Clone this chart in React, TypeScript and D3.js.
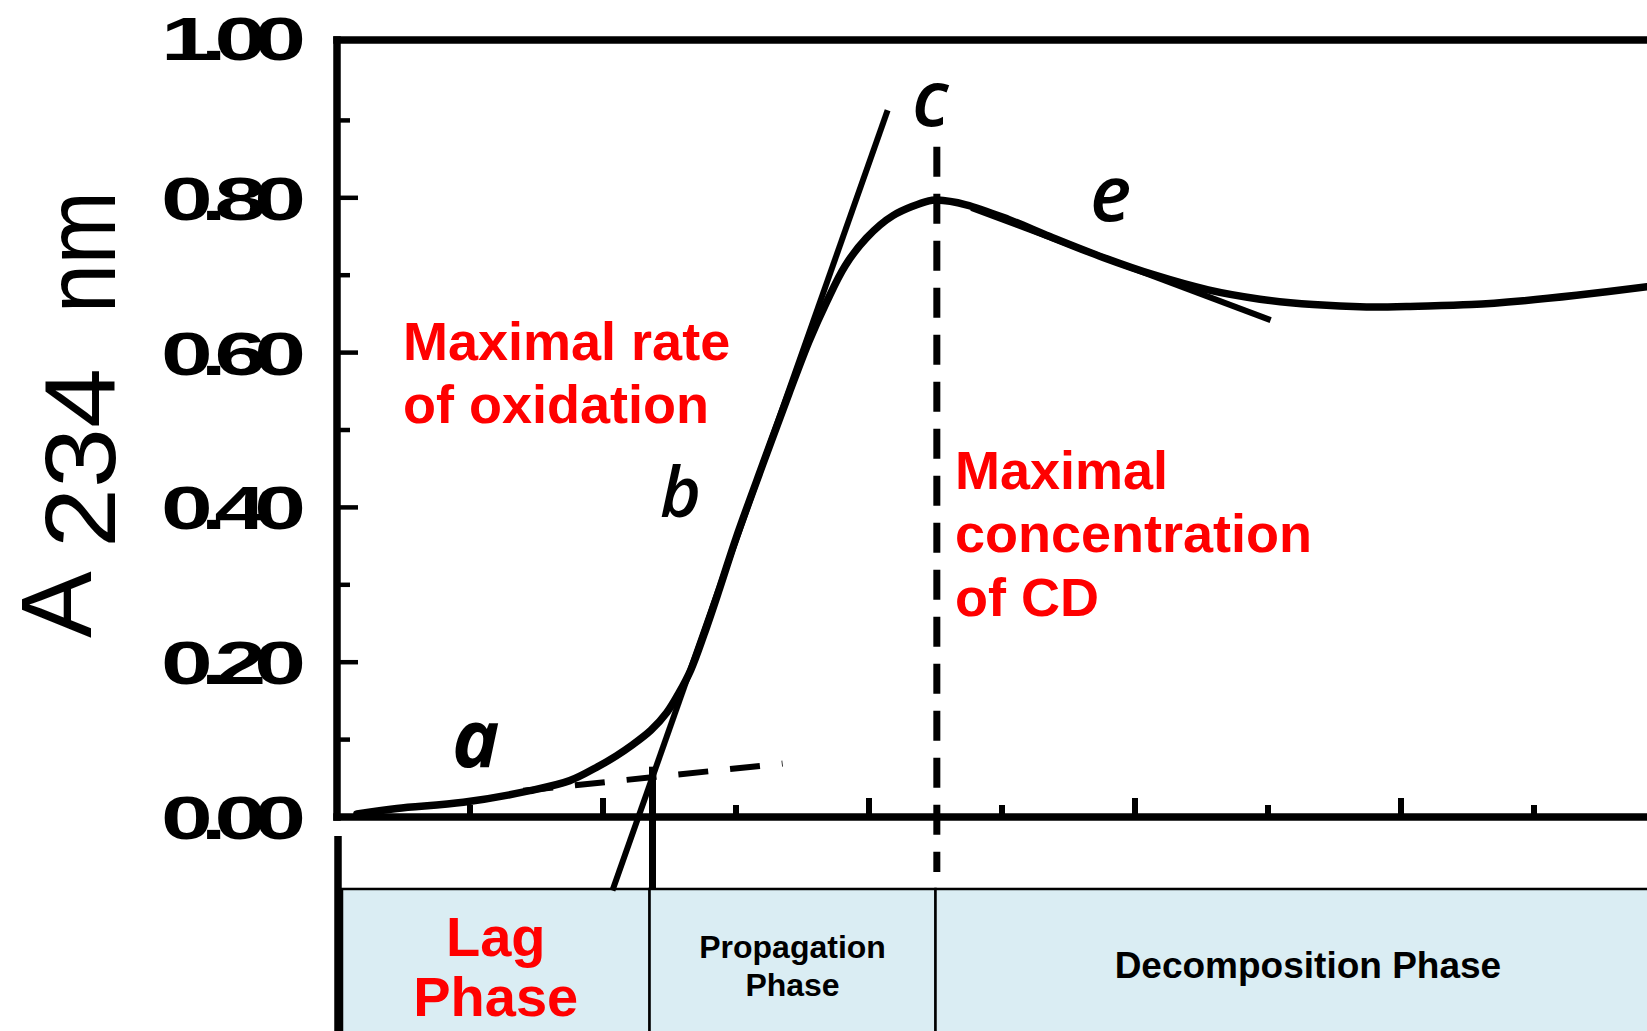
import React from "react";
import * as d3 from "d3";

const W = 1647;
const H = 1031;

// Conjugated-diene absorbance at 234 nm against time (one unit per x tick)
const timePoints = [
  0.15, 0.45, 0.95, 1.45, 1.75, 1.95, 2.1, 2.22, 2.36, 2.48, 2.57, 2.66, 2.76, 2.88,
  3.0, 3.2, 3.4, 3.55, 3.68, 3.82, 3.98, 4.18, 4.45, 4.51, 4.73, 5.05, 5.36, 5.76,
  6.15, 6.55, 6.94, 7.34, 7.74, 8.13, 8.53, 8.92, 9.32, 9.85,
];
const absorbance = [
  0.004, 0.011, 0.019, 0.034, 0.047, 0.064, 0.079, 0.093, 0.112, 0.135, 0.16, 0.19,
  0.236, 0.297, 0.36, 0.455, 0.548, 0.615, 0.665, 0.712, 0.748, 0.777, 0.796, 0.797,
  0.791, 0.772, 0.75, 0.723, 0.7, 0.681, 0.669, 0.662, 0.659, 0.66, 0.662, 0.667,
  0.674, 0.685,
];

// Construction lines: lag tangent (a), maximal-rate tangent (b), decline tangent (e)
const lagTangentX = [1.4, 3.35];
const lagTangentY = [0.034, 0.069];
const rateTangentX = [2.071, 4.14];
const rateTangentY = [-0.095, 0.913];
const declineTangentX = [4.77, 7.02];
const declineTangentY = [0.787, 0.642];

// Lag time marker and maximum (c) marker
const lagTime = 2.372;
const lagMarkerY = [0.065, -0.093];
const peakTime = 4.51;
const peakMarkerY = [0.866, -0.071];

const yMajorTicks = [0, 0.2, 0.4, 0.6, 0.8, 1.0];
const yTickLabels = ["0.00", "0.20", "0.40", "0.60", "0.80", "1.00"];
const yMinorTicks = [0.1, 0.3, 0.5, 0.7, 0.9];
const xTicks = [1, 2, 3, 4, 5, 6, 7, 8, 9];

const phaseBounds = [0, 2.35, 4.5, 10.1];
const phaseLabels = [["Lag", "Phase"], ["Propagation", "Phase"], ["Decomposition Phase"]];

const RED = "#ff0000";
const SANS = "'Liberation Sans', Arial, sans-serif";

export default function App() {
  const x = d3.scaleLinear().domain([0, 10]).range([337, 1667]);
  const y = d3.scaleLinear().domain([0, 1]).range([817, 43]);

  const curve = d3
    .line<number>()
    .x((_, i) => x(timePoints[i]))
    .y((d) => y(d))
    .curve(d3.curveCatmullRom.alpha(0.5));

  const seg = (xs: number[], ys: number[]) =>
    d3
      .line<number>()
      .x((_, i) => x(xs[i]))
      .y((d) => y(d))(ys) as string;

  const boxTop = y(-0.093);
  const axisX = x(0);
  const axisY = y(0);

  return (
    <svg
      width={W}
      height={H}
      viewBox={`0 0 ${W} ${H}`}
      style={{ position: "absolute", left: 0, top: 0, background: "#fff" }}
    >
      <rect x={0} y={0} width={W} height={H} fill="#fff" />

      {/* phase boxes */}
      <g>
        {phaseLabels.map((_, i) => {
          const x0 = i === 0 ? axisX + 5 : x(phaseBounds[i]);
          const x1 = x(phaseBounds[i + 1]);
          return (
            <rect
              key={i}
              x={x0}
              y={boxTop}
              width={x1 - x0}
              height={H - boxTop + 20}
              fill="#daedf3"
              stroke="#000"
              strokeWidth={2.5}
            />
          );
        })}
        {/* Lag */}
        <text
          x={(axisX + 5 + x(phaseBounds[1])) / 2}
          y={956}
          textAnchor="middle"
          fontFamily={SANS}
          fontWeight="bold"
          fontSize={56}
          fill={RED}
        >
          {phaseLabels[0][0]}
        </text>
        <text
          x={(axisX + 5 + x(phaseBounds[1])) / 2}
          y={1016}
          textAnchor="middle"
          fontFamily={SANS}
          fontWeight="bold"
          fontSize={56}
          fill={RED}
        >
          {phaseLabels[0][1]}
        </text>
        {/* Propagation */}
        <text
          x={(x(phaseBounds[1]) + x(phaseBounds[2])) / 2}
          y={958}
          textAnchor="middle"
          fontFamily={SANS}
          fontWeight="bold"
          fontSize={32}
          fill="#000"
        >
          {phaseLabels[1][0]}
        </text>
        <text
          x={(x(phaseBounds[1]) + x(phaseBounds[2])) / 2}
          y={996}
          textAnchor="middle"
          fontFamily={SANS}
          fontWeight="bold"
          fontSize={32}
          fill="#000"
        >
          {phaseLabels[1][1]}
        </text>
        {/* Decomposition */}
        <text
          x={(x(phaseBounds[2]) + x(phaseBounds[3])) / 2}
          y={978}
          textAnchor="middle"
          fontFamily={SANS}
          fontWeight="bold"
          fontSize={37}
          fill="#000"
        >
          {phaseLabels[2][0]}
        </text>
      </g>

      {/* frame */}
      <g stroke="#000" strokeWidth={7.5} fill="none" strokeLinecap="square">
        <line x1={axisX} y1={y(1) - 3} x2={axisX} y2={axisY} />
        <line x1={axisX} y1={y(1) - 3} x2={W + 10} y2={y(1) - 3} />
        <line x1={axisX} y1={axisY} x2={W + 10} y2={axisY} />
        <line x1={axisX + 1} y1={836} x2={axisX + 1} y2={H + 10} strokeLinecap="butt" />
      </g>

      {/* y ticks */}
      <g stroke="#000" strokeWidth={4.5}>
        {yMajorTicks.slice(1, 5).map((v) => (
          <line key={v} x1={axisX} x2={axisX + 21} y1={y(v)} y2={y(v)} />
        ))}
        {yMinorTicks.map((v) => (
          <line key={v} x1={axisX} x2={axisX + 13} y1={y(v)} y2={y(v)} />
        ))}
      </g>

      {/* x ticks */}
      <g stroke="#000" strokeWidth={6}>
        {xTicks.map((t) => (
          <line key={t} x1={x(t)} x2={x(t)} y1={axisY} y2={axisY - (t % 2 === 0 ? 19 : 12)} />
        ))}
      </g>

      {/* y tick labels */}
      <g fontFamily={SANS} fontWeight="bold" fontSize={62} fill="#000">
        {yMajorTicks.map((v, i) => (
          <text
            key={v}
            transform={`translate(294,${y(v) + 22 - (v === 1 ? 5 : 0)}) scale(1.5,1)`}
            textAnchor="end"
            letterSpacing={-8}
          >
            {yTickLabels[i]}
          </text>
        ))}
      </g>

      {/* y axis title */}
      <g transform="translate(115,638) rotate(-90)" fontFamily={SANS} fontSize={100} fill="#000">
        <text x={0} y={-24}>A</text>
        <text x={90} y={0} textLength={180} lengthAdjust="spacingAndGlyphs">234</text>
        <text x={325} y={0} textLength={122} lengthAdjust="spacingAndGlyphs">nm</text>
      </g>

      {/* construction lines */}
      <g fill="none" stroke="#000" strokeLinecap="butt">
        <path d={seg(lagTangentX, lagTangentY)} strokeWidth={6} strokeDasharray="30 22" />
        <path d={seg(rateTangentX, rateTangentY)} strokeWidth={6} />
        <path d={seg(declineTangentX, declineTangentY)} strokeWidth={6} />
        <line
          x1={x(lagTime)}
          x2={x(lagTime)}
          y1={y(lagMarkerY[0])}
          y2={y(lagMarkerY[1])}
          strokeWidth={7}
        />
        <line
          x1={x(peakTime)}
          x2={x(peakTime)}
          y1={y(peakMarkerY[0])}
          y2={y(peakMarkerY[1])}
          strokeWidth={7}
          strokeDasharray="30 17"
        />
      </g>

      {/* oxidation curve */}
      <path
        d={curve(absorbance) as string}
        fill="none"
        stroke="#000"
        strokeWidth={7.5}
        strokeLinejoin="round"
        strokeLinecap="round"
      />

      {/* point letters */}
      <g fontFamily="'Open Sans', sans-serif" fontStyle="italic" fill="#000">
        <text x={452} y={767} fontSize={80} fontWeight="bold">a</text>
        <text x={660} y={517} fontSize={70} fontWeight="600">b</text>
        <text x={912} y={126} fontSize={78} fontWeight="600">c</text>
        <text x={1090} y={221} fontSize={78} fontWeight="600">e</text>
      </g>

      {/* annotations */}
      <g fontFamily={SANS} fontWeight="bold" fontSize={54} fill={RED}>
        <text x={403} y={360}>Maximal rate</text>
        <text x={403} y={423}>of oxidation</text>
        <text x={955} y={489}>Maximal</text>
        <text x={955} y={552}>concentration</text>
        <text x={955} y={616}>of CD</text>
      </g>
    </svg>
  );
}
